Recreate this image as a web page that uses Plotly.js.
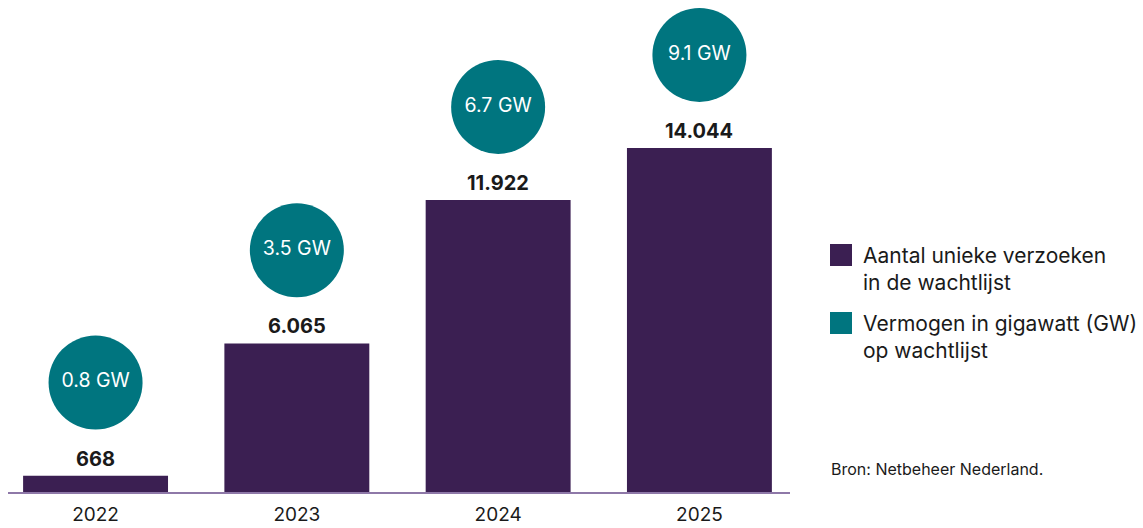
<!DOCTYPE html>
<html>
<head>
<meta charset="utf-8">
<script src="https://cdn.plot.ly/plotly-3.0.1.min.js"></script>
<style>
  html, body { margin: 0; padding: 0; background: #fff; }
  #chart { width: 1143px; height: 528px; }
</style>
</head>
<body>
<div id="chart"></div>
<script>
// ---- data ----
const years = ['2022', '2023', '2024', '2025'];
const requests = [668, 6065, 11922, 14044];
const gigawatt = [0.8, 3.5, 6.7, 9.1];
const legendLabels = ['Aantal unieke verzoeken<br>in de wachtlijst', 'Vermogen in gigawatt (GW)<br>op wachtlijst'];
const sourceText = 'Bron: Netbeheer Nederland.';

// ---- styles ----
const PURPLE = '#3b1f52';
const TEAL = '#00757f';
const TEXT = '#1a1a1a';
const FONT = 'Inter, "Noto Sans", sans-serif';
const circleOffset = 3800; // gap between bar top and circle centre (data units)

function fmtNL(n) {
  return String(n).replace(/\B(?=(\d{3})+(?!\d))/g, '.');
}

const bars = {
  type: 'bar',
  x: years,
  y: requests,
  width: 0.72,
  marker: { color: PURPLE },
  hoverinfo: 'skip',
  showlegend: false
};

const circles = {
  type: 'scatter',
  mode: 'markers+text',
  x: years,
  y: requests.map(v => v + circleOffset),
  text: gigawatt.map(v => v.toFixed(1) + ' GW'),
  textposition: 'middle center',
  textfont: { family: FONT, size: 19.5, color: '#ffffff' },
  marker: { size: 94, color: TEAL, line: { width: 0 } },
  cliponaxis: false,
  hoverinfo: 'skip',
  showlegend: false
};

const annotations = years.map((y, i) => ({
  x: i, y: requests[i], xref: 'x', yref: 'y',
  text: '<b>' + fmtNL(requests[i]) + '</b>',
  showarrow: false, yanchor: 'middle', yshift: 17,
  font: { family: FONT, size: 20, color: TEXT }
}));

// manual legend
const legendColors = [PURPLE, TEAL];
const legTop = [244, 312]; // px from top
const H = 528, W = 1143;
const shapes = [];
legendLabels.forEach((lab, i) => {
  shapes.push({
    type: 'rect', xref: 'paper', yref: 'paper',
    x0: (830 - 8) / 782, x1: (852 - 8) / 782,
    y0: (492 - legTop[i]) / 492, y1: (492 - legTop[i] - 22) / 492,
    fillcolor: legendColors[i], line: { width: 0 }
  });
  annotations.push({
    xref: 'paper', yref: 'paper',
    x: (861 - 8) / 782, y: (492 - legTop[i] + 3) / 492,
    xanchor: 'left', yanchor: 'top', align: 'left',
    text: lab, showarrow: false,
    font: { family: FONT, size: 21, color: TEXT }
  });
});
annotations.push({
  xref: 'paper', yref: 'paper',
  x: (829 - 8) / 782, y: (492 - 469) / 492,
  xanchor: 'left', yanchor: 'middle', align: 'left',
  text: sourceText, showarrow: false,
  font: { family: FONT, size: 16, color: TEXT }
});

const layout = {
  width: W, height: H,
  margin: { l: 8, r: 353, t: 0, b: 36, pad: 0 },
  paper_bgcolor: '#ffffff',
  plot_bgcolor: '#ffffff',
  font: { family: FONT, color: TEXT },
  showlegend: false,
  xaxis: {
    type: 'category',
    range: [-0.435, 3.45],
    showgrid: false, zeroline: false,
    showline: true, linecolor: '#8e78a8', linewidth: 2,
    ticks: '', ticklabelstandoff: 4,
    tickfont: { family: FONT, size: 19, color: TEXT },
    fixedrange: true
  },
  yaxis: {
    range: [0, 20086],
    visible: false,
    showgrid: false, zeroline: false,
    fixedrange: true
  },
  annotations: annotations,
  shapes: shapes
};

Plotly.newPlot('chart', [bars, circles], layout, { staticPlot: true, displayModeBar: false });
</script>
</body>
</html>
